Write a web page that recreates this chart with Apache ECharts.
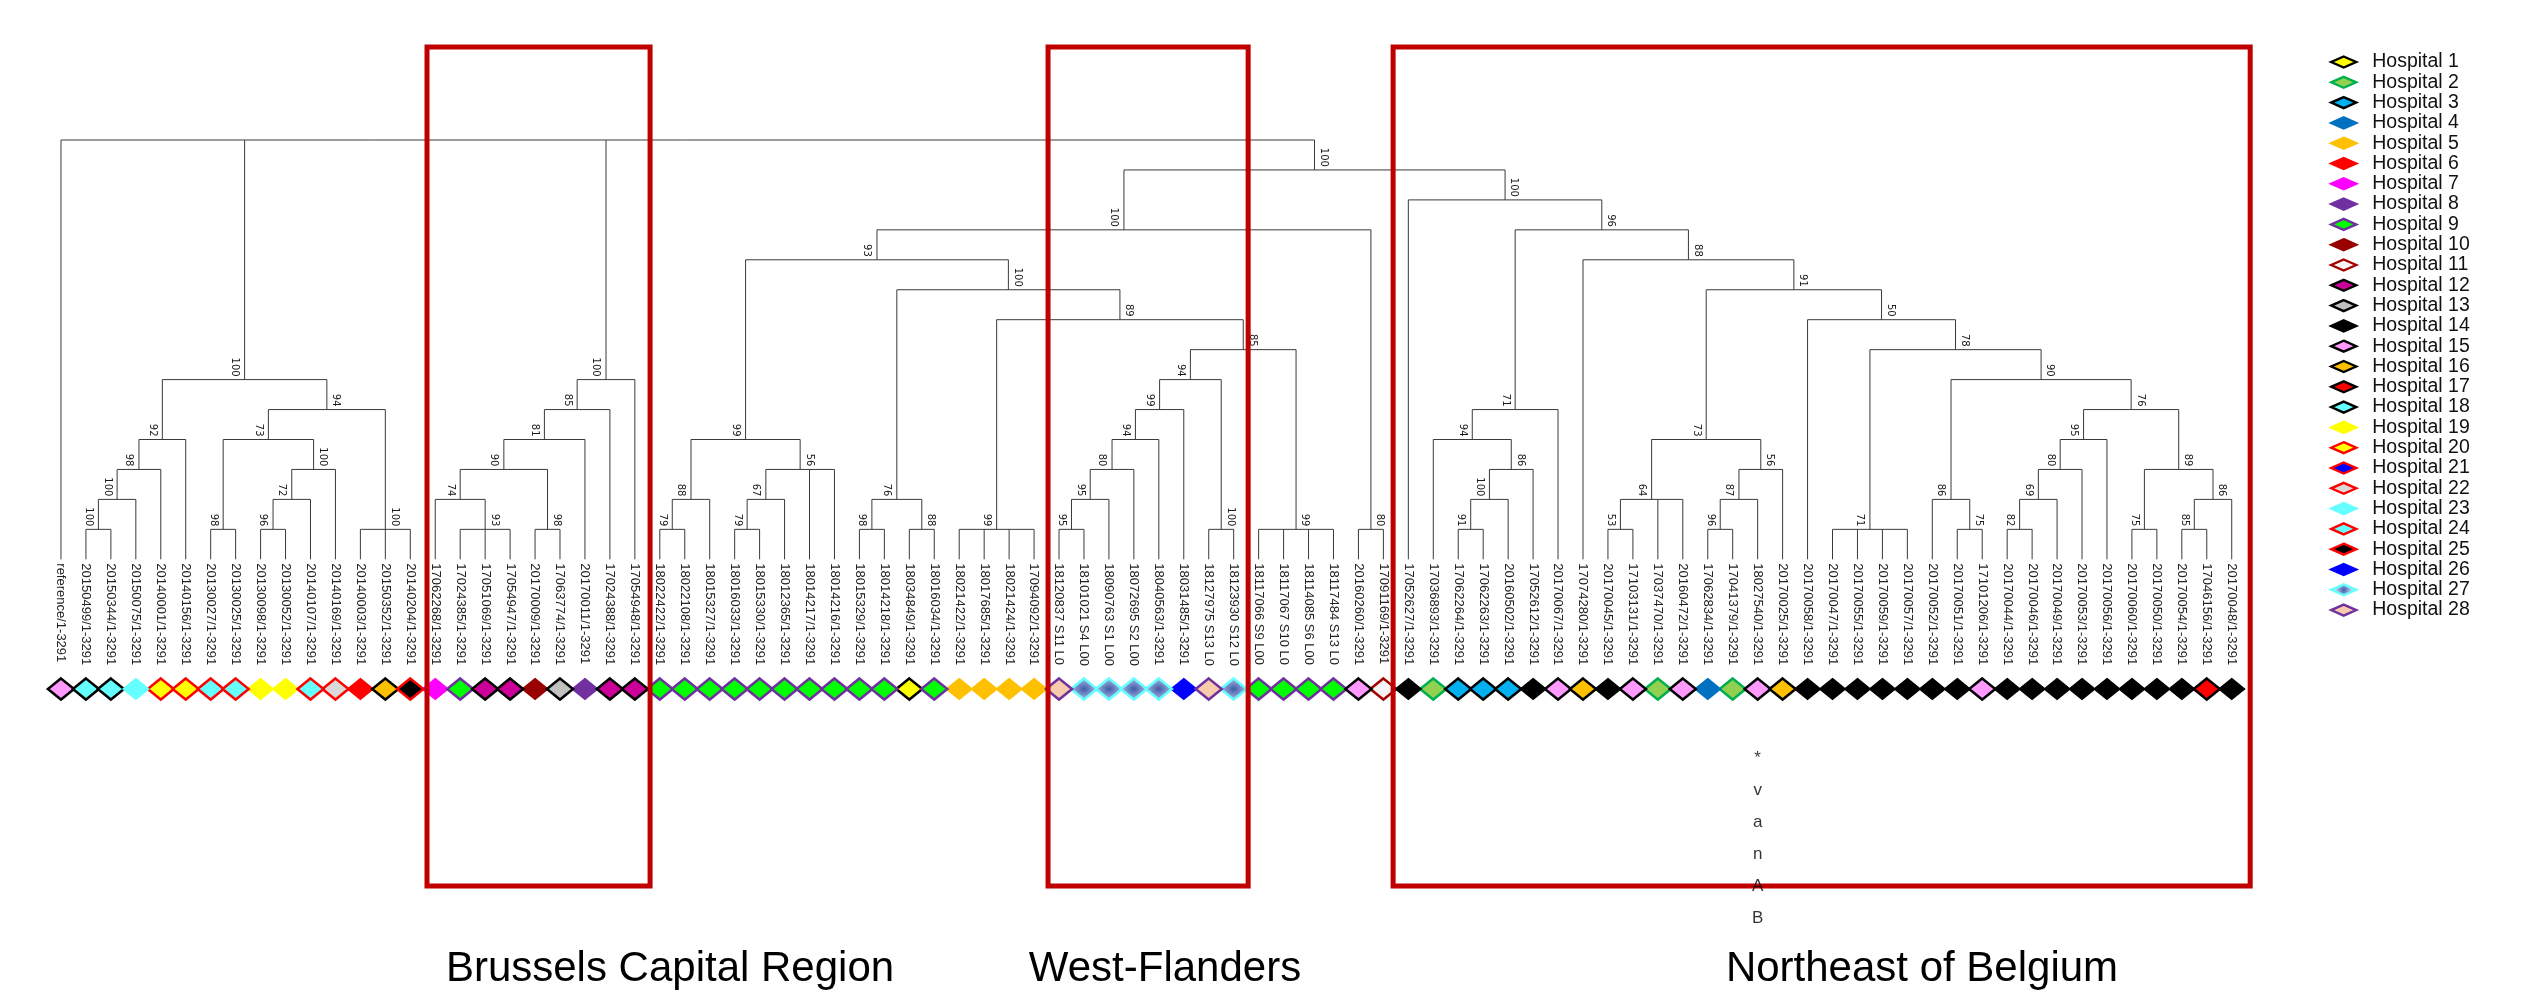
<!DOCTYPE html>
<html>
<head>
<meta charset="utf-8">
<script src="https://cdn.jsdelivr.net/npm/echarts@6/dist/echarts.min.js"></script>
<style>
  html, body { margin: 0; padding: 0; background: #ffffff; }
  #chart { width: 2535px; height: 990px; }
</style>
</head>
<body>
<div id="chart"></div>
<script>
// Isolate names, in dendrogram order (left to right)
const leafNames = [
  'reference/1-3291', '20150499/1-3291', '20150344/1-3291', '20150075/1-3291', '20140001/1-3291',
  '20140156/1-3291', '20130027/1-3291', '20130025/1-3291', '20130098/1-3291', '20130052/1-3291',
  '20140107/1-3291', '20140169/1-3291', '20140003/1-3291', '20150352/1-3291', '20140204/1-3291',
  '17062268/1-3291', '17024385/1-3291', '17051069/1-3291', '17054947/1-3291', '20170009/1-3291',
  '17063774/1-3291', '20170011/1-3291', '17024388/1-3291', '17054948/1-3291', '18022422/1-3291',
  '18022108/1-3291', '18015327/1-3291', '18016033/1-3291', '18015330/1-3291', '18012365/1-3291',
  '18014217/1-3291', '18014216/1-3291', '18015329/1-3291', '18014218/1-3291', '18034849/1-3291',
  '18016034/1-3291', '18021422/1-3291', '18017685/1-3291', '18021424/1-3291', '17094092/1-3291',
  '18120837 S11 L001', '18101021 S4 L001', '18090763 S1 L001', '18072695 S2 L001', '18040563/1-3291',
  '18031485/1-3291', '18127975 S13 L001', '18123930 S12 L001', '18117066 S9 L001', '18117067 S10 L001',
  '18114085 S6 L001', '18117484 S13 L001', '20160260/1-3291', '17091169/1-3291', '17052627/1-3291',
  '17036893/1-3291', '17062264/1-3291', '17062263/1-3291', '20160502/1-3291', '17052612/1-3291',
  '20170067/1-3291', '17074280/1-3291', '20170045/1-3291', '17103131/1-3291', '17037470/1-3291',
  '20160472/1-3291', '17062834/1-3291', '17041379/1-3291', '18027540/1-3291', '20170025/1-3291',
  '20170058/1-3291', '20170047/1-3291', '20170055/1-3291', '20170059/1-3291', '20170057/1-3291',
  '20170052/1-3291', '20170051/1-3291', '17101206/1-3291', '20170044/1-3291', '20170046/1-3291',
  '20170049/1-3291', '20170053/1-3291', '20170056/1-3291', '20170060/1-3291', '20170050/1-3291',
  '20170054/1-3291', '17046156/1-3291', '20170048/1-3291'
];

// Hospital number of each isolate (same order as leafNames)
const leafHospital = [
  15, 18, 18, 23, 20, 20, 24, 24, 19, 19, 24, 22, 6, 16, 25,
  7, 9, 12, 12, 10, 13, 8, 12, 12,
  9, 9, 9, 9, 9, 9, 9, 9, 9, 9, 1, 9, 5, 5, 5, 5,
  28, 27, 27, 27, 27, 26, 28, 27, 9, 9, 9, 9,
  15, 11, 14, 2, 3, 3, 3, 14, 15, 16, 14, 15, 2, 15, 4, 2, 15, 16,
  14, 14, 14, 14, 14, 14, 14, 15, 14, 14, 14, 14, 14, 14, 14, 14, 17, 14
];

// Tree topology (leaf indices) with bootstrap support on internal nodes
const newick = "(0,(((((1,2)100,3)100,4)98,5)92,(((6,7)98,(((8,9)96,10)72,11)100)73,(12,13,14)100)94)100,(((((15,(16,17,18)93)74,(19,20)98)90,21)81,22)85,23)100,((((((24,25)79,26)88,(((27,28)79,29)67,30,31)56)99,(((32,33)98,(34,35)88)76,((36,37,38,39)99,(((((((40,41)95,42)95,43)80,44)94,45)99,(46,47)100)94,(48,49,50,51)99)85)89)100)93,(52,53)80)100,(54,(((55,(((56,57)91,58)100,59)86)94,60)71,(61,((((62,63)53,64,65)64,(((66,67)96,68)87,69)56)73,(70,((71,72,73,74)71,((75,(76,77)75)86,(((((78,79)82,80)69,81)80,82)95,((83,84)75,((85,86)85,87)86)89)76)90)78)50)91)88)96)100)100)";

// Legend entries and their marker styles
const hospitals = Array.from({ length: 28 }, (_, k) => 'Hospital ' + (k + 1));
const hospitalFill = [
  '#FFFF00', '#92D050', '#00B0F0', '#0070C0', '#FFC000', '#FF0000', '#FF00FF', '#7030A0',
  '#00FF00', '#990000', '#F5F5F5', '#CC0099', '#C0C0C0', '#000000', '#FF99FF', '#FFC000',
  '#FF0000', '#66FFFF', '#FFFF00', '#FFFF00', '#0000FF', '#D9D9D9', '#66FFFF', '#66FFFF',
  '#000000', '#0000FF', 'shaded', '#F8CBAD'
];
const hospitalBorder = [
  '#000000', '#00B050', '#000000', null, null, null, null, null,
  '#7030A0', null, '#A50000', '#000000', '#000000', null, '#000000', '#000000',
  '#000000', '#000000', null, '#FF0000', '#FF0000', '#FF0000', null, '#FF0000',
  '#FF0000', null, '#66FFFF', '#7030A0'
];

// Outlined geographic clusters: [first edge, last edge] in leaf units
const regionNames = ['Brussels Capital Region', 'West-Flanders', 'Northeast of Belgium'];
const regionSpan = [[14.67, 23.61], [39.56, 47.58], [53.39, 87.74]];

// Isolate flagged with vanA/vanB
const vanLeaf = 68;
const vanNote = ['*', 'v', 'a', 'n', 'A', 'B'];

// ---- build the tree layout -------------------------------------------------
function parseNewick(s) {
  let i = 0;
  function readDigits() {
    let t = '';
    while (i < s.length && /[0-9]/.test(s[i])) t += s[i++];
    return t;
  }
  function node() {
    const n = { children: [], label: '' };
    if (s[i] === '(') {
      i++;
      n.children.push(node());
      while (s[i] === ',') { i++; n.children.push(node()); }
      i++;
      n.label = readDigits();
    } else {
      n.leaf = +readDigits();
    }
    return n;
  }
  return node();
}

const root = parseNewick(newick);
function place(n, isLast) {
  n.isLast = isLast;
  if (n.leaf !== undefined) { n.x = n.leaf; n.h = -1; return; }
  n.children.forEach((c, k) => place(c, k === n.children.length - 1));
  n.h = Math.max.apply(null, n.children.map(c => c.h)) + 1;
  n.x = (n.children[0].x + n.children[n.children.length - 1].x) / 2;
}
place(root, false);
const maxH = root.h;
const internal = [];
(function collect(n, isRoot) {
  n.level = maxH - n.h;
  n.isRoot = isRoot;
  if (n.leaf === undefined) {
    internal.push(n);
    n.children.forEach(c => collect(c, false));
  }
})(root, true);

// ---- chart -----------------------------------------------------------------
const FONT = '"Liberation Sans", Arial, sans-serif';
const GRID_LEFT = 48.5, GRID_RIGHT = 290.8;
const N = leafNames.length;

function fillOf(k) {
  if (hospitalFill[k] === 'shaded') {
    return {
      type: 'radial', x: 0.5, y: 0.5, r: 0.6,
      colorStops: [
        { offset: 0, color: '#3f5ba6' },
        { offset: 0.45, color: '#7d93cb' },
        { offset: 1, color: '#c3d1f0' }
      ]
    };
  }
  return hospitalFill[k];
}
function markerStyle(k, bordered, plain) {
  return {
    color: fillOf(k),
    borderColor: hospitalBorder[k] || fillOf(k),
    borderWidth: hospitalBorder[k] ? bordered : plain,
    opacity: 1
  };
}

// One diamond series per hospital, placed under each isolate
const hospitalSeries = hospitals.map((name, k) => {
  const data = [];
  leafHospital.forEach((h, i) => { if (h === k + 1) data.push([i, 0.5]); });
  return {
    name, type: 'scatter', xAxisIndex: 2, yAxisIndex: 1,
    symbol: 'diamond', symbolSize: [26, 21],
    itemStyle: markerStyle(k, 2.6, 1.2),
    emphasis: { disabled: true },
    silent: true, animation: false, z: 5,
    data
  };
});

// vanA/vanB note written under the flagged isolate, above the cluster frames
const noteSeries = {
  name: 'vanA/vanB', type: 'scatter', xAxisIndex: 2, yAxisIndex: 1,
  symbol: 'diamond', symbolSize: [26, 21],
  itemStyle: { color: 'rgba(255,255,255,0)', borderWidth: 0 },
  emphasis: { disabled: true },
  silent: true, animation: false, z: 30,
  data: [[vanLeaf, 0.5]],
  label: {
    show: true, position: 'bottom', distance: 42.5,
    formatter: vanNote.join('\n'),
    fontSize: 17, lineHeight: 32, color: '#000', fontFamily: FONT
  }
};

const treeSeries = {
  type: 'custom', xAxisIndex: 0, yAxisIndex: 0,
  animation: false, silent: true, clip: false, z: 3,
  data: internal.map(n => [n.x, n.level]),
  renderItem(params, api) {
    const n = internal[params.dataIndex];
    const els = [];
    const line = (a, b) => ({
      type: 'line',
      shape: { x1: a[0], y1: a[1], x2: b[0], y2: b[1] },
      style: { stroke: '#3a3a3a', lineWidth: 1 }
    });
    const first = n.children[0], last = n.children[n.children.length - 1];
    els.push(line(api.coord([first.x, n.level]), api.coord([last.x, n.level])));
    n.children.forEach(c => {
      els.push(line(api.coord([c.x, n.level]), api.coord([c.x, c.level])));
    });
    if (!n.isRoot && n.label) {
      const p = api.coord([n.x, n.level]);
      els.push({
        type: 'text',
        x: p[0] + (n.isLast ? 9 : -10), y: p[1] - 3,
        rotation: -Math.PI / 2,
        style: {
          text: n.label, fontSize: 10, fontFamily: '"DejaVu Sans", sans-serif',
          fill: '#1a1a1a', align: 'right', verticalAlign: 'middle'
        }
      });
    }
    return { type: 'group', children: els };
  }
};

const regionSeries = {
  type: 'custom', xAxisIndex: 3, yAxisIndex: 2,
  animation: false, silent: true, clip: false, z: 20,
  data: regionSpan,
  renderItem(params, api) {
    const a = api.coord([api.value(0), 1]);
    const b = api.coord([api.value(1), 0]);
    return {
      type: 'rect',
      shape: { x: a[0], y: a[1], width: b[0] - a[0], height: b[1] - a[1] },
      style: { fill: 'none', stroke: '#C00000', lineWidth: 5 }
    };
  }
};

const titleX = [670, 1165, 1922];

const option = {
  backgroundColor: '#ffffff',
  animation: false,
  grid: [
    { left: GRID_LEFT, right: GRID_RIGHT, top: 140, bottom: 430.7 },
    { left: GRID_LEFT, right: GRID_RIGHT, top: 669, height: 40 },
    { left: GRID_LEFT, right: GRID_RIGHT, top: 47, bottom: 104 }
  ],
  xAxis: [
    { type: 'value', gridIndex: 0, min: -0.5, max: N - 0.5, show: false },
    {
      type: 'category', gridIndex: 0, position: 'bottom', data: leafNames, boundaryGap: true,
      axisLine: { show: false }, axisTick: { show: false }, splitLine: { show: false },
      axisLabel: {
        interval: 0, rotate: -90, margin: 4, fontSize: 13, fontFamily: FONT, color: '#222',
        width: 106, overflow: 'truncate', ellipsis: ''
      }
    },
    { type: 'value', gridIndex: 1, min: -0.5, max: N - 0.5, show: false },
    { type: 'value', gridIndex: 2, min: -0.5, max: N - 0.5, show: false }
  ],
  yAxis: [
    { type: 'value', gridIndex: 0, min: 0, max: maxH + 1, inverse: true, show: false },
    { type: 'value', gridIndex: 1, min: 0, max: 1, show: false },
    { type: 'value', gridIndex: 2, min: 0, max: 1, show: false }
  ],
  legend: {
    orient: 'vertical', left: 2330, top: 52, padding: 0,
    itemWidth: 25, itemHeight: 11, itemGap: 0.3,
    icon: 'diamond', selectedMode: false,
    textStyle: { fontSize: 19.5, fontFamily: FONT, color: '#111', padding: [0, 0, 0, 11] },
    data: hospitals.map((name, k) => ({ name, itemStyle: markerStyle(k, 2.4, 2.4) }))
  },
  graphic: regionNames.map((t, k) => ({
    type: 'text', x: titleX[k], y: 969, silent: true,
    style: {
      text: t, fontSize: 42, fontFamily: FONT, fill: '#000',
      align: 'center', verticalAlign: 'middle'
    }
  })),
  series: [treeSeries].concat(hospitalSeries, [regionSeries, noteSeries])
};

const chart = echarts.init(document.getElementById('chart'), null, { renderer: 'canvas' });
chart.setOption(option);
</script>
</body>
</html>
